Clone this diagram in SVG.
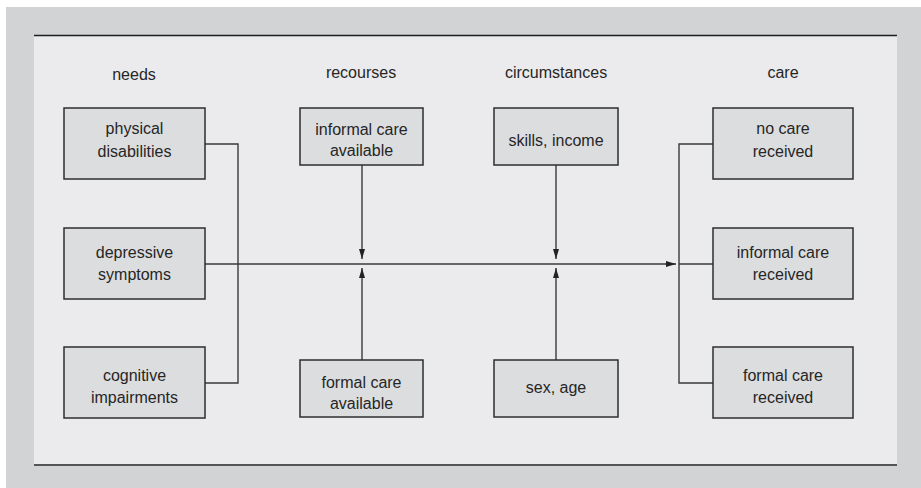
<svg xmlns="http://www.w3.org/2000/svg" width="921" height="488" viewBox="0 0 921 488">
<style>
.box{fill:#dcdddf;stroke:#2e2e2e;stroke-width:1.5}
.t{font-family:"Liberation Sans",Arial,sans-serif;font-size:16px;fill:#262626;text-anchor:middle}
.ln{fill:none;stroke:#3a3a3a;stroke-width:1.4}
</style>
<defs>
<marker id="ah" viewBox="0 0 10 6" refX="10" refY="3" markerWidth="10" markerHeight="6" markerUnits="userSpaceOnUse" orient="auto">
<path d="M0,0 L10,3 L0,6 Z" fill="#222"/>
</marker>
</defs>
<rect x="0" y="0" width="921" height="488" fill="#ffffff"/>
<rect x="6" y="7" width="915" height="481" fill="#d2d3d5"/>
<rect x="34" y="35" width="863" height="430" fill="#ebebed"/>
<line x1="34" y1="35.5" x2="897" y2="35.5" stroke="#1e1e1e" stroke-width="1.5"/>
<line x1="34" y1="465" x2="897" y2="465" stroke="#555" stroke-width="2"/>

<g id="headers">
<text class="t" x="134" y="80">needs</text>
<text class="t" x="361" y="78">recourses</text>
<text class="t" x="556" y="78">circumstances</text>
<text class="t" x="783" y="78">care</text>
</g>

<g id="connectors">
<polyline class="ln" points="205,144 238,144 238,383 205,383"/>
<line class="ln" x1="205" y1="264" x2="676" y2="264" stroke-width="1.6" marker-end="url(#ah)"/>
<line class="ln" x1="362" y1="165" x2="362" y2="259" marker-end="url(#ah)"/>
<line class="ln" x1="362" y1="360" x2="362" y2="268" marker-end="url(#ah)"/>
<line class="ln" x1="556" y1="165" x2="556" y2="259" marker-end="url(#ah)"/>
<line class="ln" x1="556" y1="360" x2="556" y2="268" marker-end="url(#ah)"/>
<polyline class="ln" points="713,144 679,144 679,383 713,383"/>
<line class="ln" x1="679" y1="264" x2="713" y2="264"/>
</g>

<g id="physical">
<rect class="box" x="64" y="108" width="141" height="71"/>
<text class="t" x="134.5" y="134">physical</text>
<text class="t" x="134.5" y="156.5">disabilities</text>
</g>
<g id="depressive">
<rect class="box" x="64" y="228" width="141" height="71"/>
<text class="t" x="134.5" y="257.5">depressive</text>
<text class="t" x="134.5" y="279.5">symptoms</text>
</g>
<g id="cognitive">
<rect class="box" x="64" y="347" width="141" height="71"/>
<text class="t" x="134.5" y="380.5">cognitive</text>
<text class="t" x="134.5" y="402.5">impairments</text>
</g>
<g id="informal-available">
<rect class="box" x="300" y="108" width="123" height="57"/>
<text class="t" x="361.5" y="135">informal care</text>
<text class="t" x="361.5" y="156">available</text>
</g>
<g id="formal-available">
<rect class="box" x="300" y="360" width="123" height="57"/>
<text class="t" x="361.5" y="387.5">formal care</text>
<text class="t" x="361.5" y="409">available</text>
</g>
<g id="skills">
<rect class="box" x="494" y="108" width="124" height="57"/>
<text class="t" x="556" y="145.5">skills, income</text>
</g>
<g id="sexage">
<rect class="box" x="494" y="360" width="124" height="57"/>
<text class="t" x="556" y="392.5">sex, age</text>
</g>
<g id="no-care">
<rect class="box" x="713" y="108" width="140" height="71"/>
<text class="t" x="783" y="134">no care</text>
<text class="t" x="783" y="156.5">received</text>
</g>
<g id="informal-received">
<rect class="box" x="713" y="228" width="140" height="71"/>
<text class="t" x="783" y="257.5">informal care</text>
<text class="t" x="783" y="279.5">received</text>
</g>
<g id="formal-received">
<rect class="box" x="713" y="347" width="140" height="71"/>
<text class="t" x="783" y="380.5">formal care</text>
<text class="t" x="783" y="402.5">received</text>
</g>
</svg>
